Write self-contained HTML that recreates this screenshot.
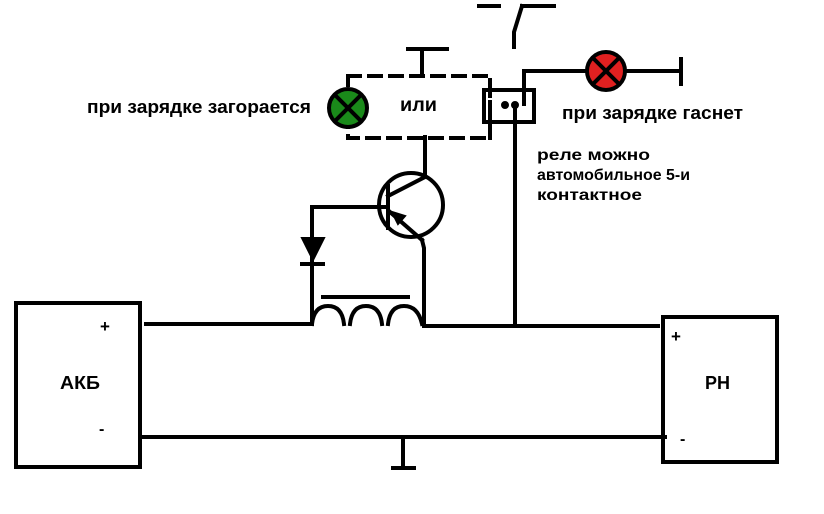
<!DOCTYPE html>
<html><head><meta charset="utf-8"><style>
body{margin:0;background:#fff;width:824px;height:514px;overflow:hidden}
svg{display:block}
text{font-family:"Liberation Sans","DejaVu Sans",sans-serif;font-weight:bold;fill:#000}
</style></head><body>
<svg width="824" height="514" viewBox="0 0 824 514" stroke="#000" stroke-width="4" fill="none" stroke-linecap="square">
<rect x="16" y="303" width="124" height="164"/>
<rect x="663" y="317" width="114" height="145"/>
<polyline points="146,324 312,324"/>
<polyline points="424,326 658,326"/>
<line x1="140" y1="437" x2="665" y2="437"/>
<line x1="403" y1="437" x2="403" y2="467"/>
<line x1="393" y1="468" x2="414" y2="468"/>
<path d="M312,324 Q314,306 328,306 Q342,306 344,324 M350,324 Q352,306 366,306 Q380,306 382,324 M388,324 Q390,306 404,306 Q418,306 422,324"/>
<line x1="323" y1="297" x2="408" y2="297"/>
<polyline points="312,324 312,207 387,207"/>
<polygon points="302,238 324,238 313,260" fill="#000" stroke-width="2"/>
<line x1="302" y1="264" x2="323" y2="264"/>
<circle cx="411" cy="205" r="32"/>
<line x1="388" y1="186" x2="388" y2="228"/>
<line x1="388" y1="196" x2="425" y2="177"/>
<line x1="390" y1="212" x2="422" y2="240"/>
<polygon points="392,212 405,216 398,224" fill="#000" stroke-width="2"/>
<polyline points="422,240 424,248 424,326"/>
<line x1="425" y1="137" x2="425" y2="175"/>
<rect x="348" y="76" width="142" height="62" stroke-dasharray="12,9"/>
<line x1="422" y1="50" x2="422" y2="76"/>
<line x1="408" y1="49" x2="447" y2="49"/>
<circle cx="348" cy="108" r="19" fill="#1a8a1a"/>
<line x1="336" y1="96" x2="360" y2="120"/><line x1="360" y1="96" x2="336" y2="120"/>
<rect x="484" y="90" width="50" height="32"/>
<line x1="490" y1="80" x2="490" y2="96"/>
<line x1="490" y1="112" x2="490" y2="138"/>
<circle cx="505" cy="105" r="2" fill="#000"/>
<circle cx="515" cy="105" r="2" fill="#000"/>
<line x1="515" y1="105" x2="515" y2="324"/>
<polyline points="524,104 524,71 588,71"/>
<line x1="479" y1="6" x2="499" y2="6"/>
<line x1="522" y1="6" x2="554" y2="6"/>
<polyline points="522,6 514,32 514,47"/>
<circle cx="606" cy="71" r="19" fill="#e02020"/>
<line x1="594" y1="59" x2="618" y2="83"/><line x1="618" y1="59" x2="594" y2="83"/>
<line x1="625" y1="71" x2="680" y2="71"/>
<line x1="681" y1="59" x2="681" y2="84"/>
<g stroke="none">
<text x="87" y="113" font-size="18" textLength="224" lengthAdjust="spacingAndGlyphs">при зарядке загорается</text>
<text x="400" y="111" font-size="19" textLength="37" lengthAdjust="spacingAndGlyphs">или</text>
<text x="562" y="119" font-size="18" textLength="181" lengthAdjust="spacingAndGlyphs">при зарядке гаснет</text>
<text x="537" y="160" font-size="16" textLength="113" lengthAdjust="spacingAndGlyphs">реле можно</text>
<text x="537" y="180" font-size="16" textLength="153" lengthAdjust="spacingAndGlyphs">автомобильное 5-и</text>
<text x="537" y="200" font-size="16" textLength="105" lengthAdjust="spacingAndGlyphs">контактное</text>
<text x="100" y="332" font-size="17">+</text>
<text x="60" y="389" font-size="18" textLength="40" lengthAdjust="spacingAndGlyphs">АКБ</text>
<text x="99" y="434" font-size="16">-</text>
<text x="671" y="342" font-size="17">+</text>
<text x="705" y="389" font-size="18" textLength="25" lengthAdjust="spacingAndGlyphs">РН</text>
<text x="680" y="444" font-size="16">-</text>
</g>
</svg>
</body></html>
